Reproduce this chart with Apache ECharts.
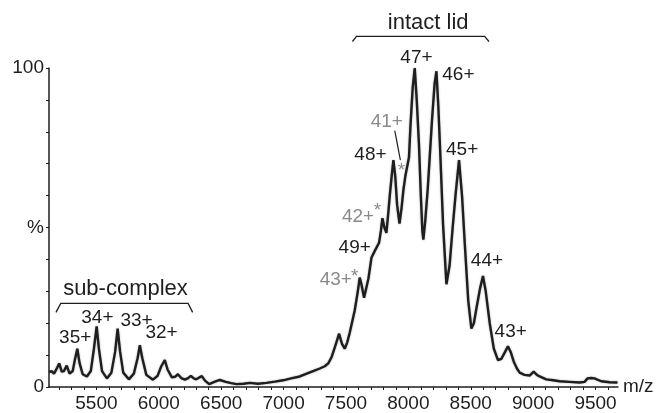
<!DOCTYPE html>
<html><head><meta charset="utf-8">
<script src="https://cdn.jsdelivr.net/npm/echarts@6/dist/echarts.min.js"></script>
<style>html,body{margin:0;padding:0;background:#fff}#c{width:659px;height:413px}</style>
</head><body><div id="c"></div>
<script>
// ---- data ----
const mz = [5122,5140,5160,5185,5202,5222,5240,5262,5285,5310,5330,5347,5365,5390,5424,5455,5480,5502,5520,5545,5584,5620,5650,5670,5690,5715,5760,5800,5830,5848,5868,5900,5953,5990,6020,6048,6070,6105,6130,6153,6180,6209,6235,6257,6280,6300,6325,6345,6370,6404,6445,6489,6537,6580,6623,6680,6730,6794,6863,6930,6996,7060,7130,7185,7237,7290,7330,7360,7386,7415,7445,7468,7490,7510,7530,7570,7595,7610,7625,7645,7658,7680,7704,7730,7765,7780,7792,7808,7824,7840,7851,7866,7880,7895,7910,7929,7945,7961,7977,7993,8005,8017,8035,8051,8067,8085,8100,8112,8120,8135,8155,8171,8190,8210,8225,8240,8255,8278,8305,8330,8355,8380,8406,8430,8452,8480,8505,8525,8547,8575,8598,8620,8652,8685,8718,8745,8775,8798,8820,8844,8870,8892,8930,8972,9004,9030,9052,9105,9160,9212,9290,9372,9412,9436,9465,9492,9520,9546,9613,9676];
const intensity = [4.6,5.0,4.2,6.0,7.4,4.8,5.0,6.7,4.2,5.0,9.0,12.0,7.5,4.0,3.3,5.0,12.0,19.0,12.0,5.0,2.7,4.5,11.0,18.3,11.0,4.5,2.4,4.2,9.0,13.1,9.0,3.8,2.3,3.5,6.5,8.4,5.5,3.0,3.2,4.0,2.8,2.3,2.8,3.5,2.7,2.4,3.0,3.4,2.0,0.9,1.6,2.2,1.6,1.2,0.9,1.0,1.3,1.0,1.3,1.7,2.1,2.7,3.3,4.2,5.0,5.8,6.5,7.5,9.5,13.0,16.7,13.5,12.0,14.0,17.0,24.0,30.0,34.3,32.0,28.0,27.6,34.0,40.5,42.6,45.2,49.0,52.9,50.0,48.3,55.0,60.0,66.0,71.1,66.0,57.0,51.2,56.0,62.0,66.4,67.0,72.0,82.0,94.0,100,90.0,76.0,60.0,49.0,46.2,52.0,62.0,72.0,84.0,95.0,99.0,88.0,74.0,51.0,32.2,38.0,50.0,61.0,71.1,60.0,45.0,27.0,18.3,20.0,25.0,31.0,34.8,30.0,20.0,12.0,8.4,8.8,11.0,12.8,11.0,8.0,5.8,4.5,3.8,3.6,4.8,3.8,3.3,2.4,2.1,1.8,1.6,1.4,1.6,2.7,2.8,2.7,2.2,1.8,1.5,1.4];

const xTickLabels = [5500,6000,6500,7000,7500,8000,8500,9000,9500];
const xTicks = [5200,5300,5400,5500,5600,5700,5800,5900,6000,6100,6200,6300,6400,6500,6600,6700,6800,6900,7000,7100,7200,7300,7400,7500,7600,7700,7800,7900,8000,8100,8200,8300,8400,8500,8600,8700,8800,8900,9000,9100,9200,9300,9400,9500,9600];
const yTicks = [0,10,20,30,40,50,60,70,80,90,100];
const yTickLabels = [0,50,100];
const yTickText = {0:'0',50:'%',100:'100'};

// peak annotations (anchor in m/z, % units)
const peakText  = ['47+','46+','41+','48+','45+','42+','49+','43+','44+','43+','35+','34+','33+','32+'];
const peakMz    = [8065,8401,7827,7696,8431,7597,7570,7418,8630,8820,5330,5508,5822,6022];
const peakPct   = [103.2,98.0,83.0,72.8,74.5,53.5,43.5,33.7,39.5,17.2,15.5,21.6,20.7,17.1];
const peakGray  = [false,false,true,false,false,true,false,true,false,false,false,false,false,false];
const starMz  = [7570,7752,7944];
const starPct = [34.5,55.2,67.7];
const leaderMz  = [7891,7936];
const leaderPct = [80.4,71.1];
const groupText = ['intact lid','sub-complex'];
const groupMz   = [8159,5733];
const groupPct  = [114.0,30.6];
const bracketMz  = [[7552,7584,8611,8646],[5176,5214,6235,6271]];
const bracketPct = [[108.3,109.9,109.9,108.3],[23.4,26.2,26.2,23.4]];

const FONT = '"Liberation Sans", Arial, Helvetica, sans-serif';
const INK = '#1e1e1e', GRAY = '#8a8a8a';

const chart = echarts.init(document.getElementById('c'), null, {renderer:'canvas'});
chart.setOption({
  animation:false,
  backgroundColor:'#fff',
  grid:{left:49, right:41, top:68, bottom:22.5},
  xAxis:{
    type:'value', min:5120, max:9680,
    axisLine:{show:true, lineStyle:{color:INK, width:1.5}},
    axisTick:{show:true, customValues:xTicks, length:3, inside:false, lineStyle:{color:INK, width:1}},
    axisLabel:{customValues:xTickLabels, formatter:v=>String(v), margin:7, fontSize:19, color:INK, fontFamily:FONT},
    splitLine:{show:false},
    name:'m/z', nameLocation:'end', nameGap:5,
    nameTextStyle:{fontSize:19, color:INK, fontFamily:FONT, verticalAlign:'middle', align:'left'}
  },
  yAxis:{
    type:'value', min:0, max:100,
    axisLine:{show:true, lineStyle:{color:INK, width:1.5}},
    axisTick:{show:true, customValues:yTicks, length:3, inside:false, lineStyle:{color:INK, width:1}},
    axisLabel:{customValues:yTickLabels, formatter:v=>yTickText[v], margin:5, fontSize:19, color:INK, fontFamily:FONT},
    splitLine:{show:false}
  },
  series:[{
    type:'line', data:mz.map((m,i)=>[m,intensity[i]]), showSymbol:false, silent:true,
    lineStyle:{color:INK, width:2.4, shadowColor:'rgba(0,0,0,0.35)', shadowBlur:2}, smooth:false
  }]
});

function px(m,p){ return chart.convertToPixel({gridIndex:0},[m,p]); }
function txt(t,m,p,color,size){
  const q = px(m,p);
  return {type:'text', x:q[0], y:q[1], silent:true,
    style:{text:t, fill:color, font:size+'px '+FONT, align:'center', verticalAlign:'middle', textAlign:'center', textVerticalAlign:'middle'}};
}
const g = [];
peakText.forEach((t,i)=>g.push(txt(t,peakMz[i],peakPct[i],peakGray[i]?GRAY:INK,19)));
starMz.forEach((m,i)=>g.push(txt('*',m,starPct[i],GRAY,19)));
groupText.forEach((t,i)=>g.push(txt(t,groupMz[i],groupPct[i],INK,22)));
bracketMz.forEach((arr,i)=>g.push({type:'polyline', silent:true,
  shape:{points:arr.map((m,j)=>px(m,bracketPct[i][j]))}, style:{stroke:INK, lineWidth:1.3, fill:null}}));
g.push({type:'polyline', silent:true, shape:{points:leaderMz.map((m,j)=>px(m,leaderPct[j]))}, style:{stroke:INK, lineWidth:1.2, fill:null}});
chart.setOption({graphic:{elements:g}});
</script>
</body></html>
